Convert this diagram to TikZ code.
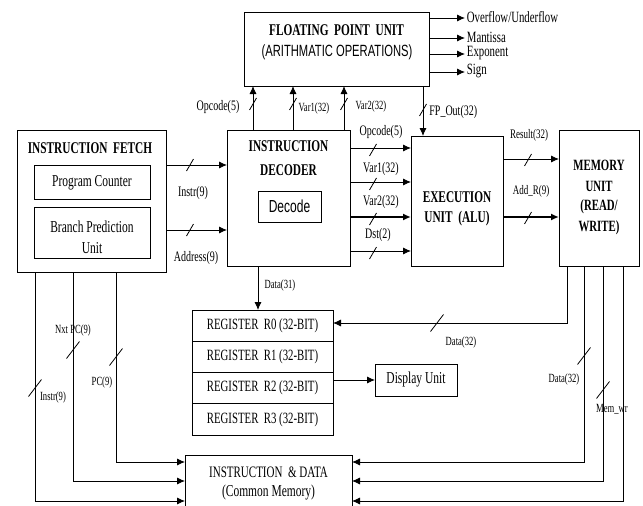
\documentclass[tikz,border=0pt]{standalone}
\usepackage{graphicx}
\usepackage{fontspec}
\setmainfont{Liberation Serif}
\newfontfamily\sansf{Liberation Sans}
\usetikzlibrary{arrows.meta}
\newcommand\vs[1]{\scalebox{1}[1.45]{#1}}
\begin{document}
\begin{tikzpicture}[x=1pt,y=-1pt,line width=0.8pt,
  box/.style={draw,inner sep=0pt,outer sep=0pt,anchor=north west},
  ttl/.style={font=\bfseries\fontsize{11.3}{13}\selectfont,inner sep=0pt},
  sanst/.style={font=\sansf\fontsize{11.2}{13}\selectfont,inner sep=0pt},
  txt/.style={font=\fontsize{11.5}{13}\selectfont,inner sep=0pt},
  rtxt/.style={font=\fontsize{10.8}{13}\selectfont,inner sep=0pt},
  lbla/.style={font=\fontsize{10}{12}\selectfont,inner sep=0pt},
  lblb/.style={font=\fontsize{8.6}{10}\selectfont,inner sep=0pt},
  lblc/.style={font=\fontsize{9}{11}\selectfont,inner sep=0pt},
  arr/.style={-{Latex[length=8pt,width=7pt]}},
  thk/.style={line width=2pt},
  sls/.pic={\draw[line width=0.8pt] (-3.5,6) -- (3.5,-6);},
  sll/.pic={\draw[line width=0.8pt] (-6.5,8.5) -- (6.5,-8.5);}
]
\useasboundingbox (0,0) rectangle (643,506);

% ---------- boxes ----------
\node[box,minimum width=185pt,minimum height=74pt] (fpu) at (244,12) {};
\node[box,minimum width=149pt,minimum height=142pt] (fetch) at (17,130) {};
\node[box,minimum width=116pt,minimum height=34pt] (pc) at (34,165) {};
\node[box,minimum width=116pt,minimum height=51pt] (bpu) at (34,207) {};
\node[box,minimum width=123pt,minimum height=136pt] (dec) at (227,130) {};
\node[box,minimum width=63pt,minimum height=31pt] (decode) at (258,191) {};
\node[box,minimum width=92pt,minimum height=130pt] (alu) at (411,136) {};
\node[box,minimum width=80pt,minimum height=136pt] (mem) at (559,130) {};
\node[box,minimum width=141pt,minimum height=31.25pt] (reg0) at (192,310) {};
\node[box,minimum width=141pt,minimum height=31.25pt] (reg1) at (192,341.25) {};
\node[box,minimum width=141pt,minimum height=31.25pt] (reg2) at (192,372.5) {};
\node[box,minimum width=141pt,minimum height=31.25pt] (reg3) at (192,403.75) {};
\node[box,minimum width=82pt,minimum height=32pt] (disp) at (375,364) {};
\node[box,minimum width=167pt,minimum height=60pt] (ind) at (185,455) {};

% ---------- texts in boxes ----------
\node[ttl] (fput) at (336.5,30) {\vs{FLOATING\ \ POINT\ \ UNIT}};
\node[sanst] (fpus) at (337,52) {\vs{(ARITHMATIC OPERATIONS)}};
\node[ttl] (fetcht) at (90,148) {\vs{INSTRUCTION\ \ FETCH}};
\node[txt] (pct) at (92,183) {\vs{Program Counter}};
\node[txt] (bput1) at (92,227) {\vs{Branch Prediction}};
\node[txt] (bput2) at (92,248) {\vs{Unit}};
\node[ttl] (dect1) at (288.5,146) {\vs{INSTRUCTION}};
\node[ttl] (dect2) at (288.5,170) {\vs{DECODER}};
\node[font=\sansf\fontsize{12}{14}\selectfont,inner sep=0pt] (decodet) at (289.5,206.5) {\vs{Decode}};
\node[ttl] (alut1) at (457,197) {\vs{EXECUTION}};
\node[ttl] (alut2) at (457,219) {\vs{UNIT\ \ (ALU)}};
\node[ttl,font=\bfseries\fontsize{10.8}{13}\selectfont] (memt1) at (599,165) {\vs{MEMORY}};
\node[ttl,font=\bfseries\fontsize{10.8}{13}\selectfont] (memt2) at (599,186) {\vs{UNIT}};
\node[ttl,font=\bfseries\fontsize{10.8}{13}\selectfont] (memt3) at (599,207) {\vs{(READ/}};
\node[ttl,font=\bfseries\fontsize{10.8}{13}\selectfont] (memt4) at (599,228) {\vs{WRITE)}};
\node[rtxt] (r0t) at (reg0) {\vs{REGISTER\ \ R0 (32-BIT)}};
\node[rtxt] (r1t) at (reg1) {\vs{REGISTER\ \ R1 (32-BIT)}};
\node[rtxt] (r2t) at (reg2) {\vs{REGISTER\ \ R2 (32-BIT)}};
\node[rtxt] (r3t) at (reg3) {\vs{REGISTER\ \ R3 (32-BIT)}};
\node[txt] (dispt) at (disp) {\vs{Display Unit}};
\node[rtxt,font=\fontsize{11}{13}\selectfont] (indt1) at (268.5,472) {\vs{INSTRUCTION\ \ \&\ DATA}};
\node[txt] (indt2) at (268.5,493) {\vs{(Common Memory)}};

% ---------- FPU outputs ----------
\node[rtxt,anchor=west,inner sep=1.5pt] (o1) at (465,17) {\vs{Overflow/Underflow}};
\node[rtxt,anchor=west,inner sep=1.5pt] (o2) at (465,37) {\vs{Mantissa}};
\node[rtxt,anchor=west,inner sep=1.5pt] (o3) at (465,53) {\vs{Exponent}};
\node[rtxt,anchor=west,inner sep=1.5pt] (o4) at (465,71) {\vs{Sign}};
\coordinate (y1) at (0,18);
\coordinate (y2) at (0,38);
\coordinate (y3) at (0,54);
\coordinate (y4) at (0,72);
\draw[arr] (fpu.east |- y1) -- (o1.west |- y1);
\draw[arr] (fpu.east |- y2) -- (o2.west |- y2);
\draw[arr] (fpu.east |- y3) -- (o3.west |- y3);
\draw[arr] (fpu.east |- y4) -- (o4.west |- y4);

% ---------- fetch -> decoder ----------
\coordinate (yi) at (0,165);
\coordinate (ya) at (0,230);
\draw[arr] (fetch.east |- yi) -- (dec.west |- yi);
\draw[arr] (fetch.east |- ya) -- (dec.west |- ya);
\pic at (190,165) {sls};
\pic at (190,230) {sls};
\node[lbla] (l1) at (193,193) {\vs{Instr(9)}};
\node[lbla] (l2) at (196,258) {\vs{Address(9)}};

% ---------- decoder -> FPU ----------
\coordinate (xa) at (253,0);
\coordinate (xb) at (293,0);
\coordinate (xc) at (344,0);
\draw[arr] (dec.north -| xa) -- (fpu.south -| xa);
\draw[arr] (dec.north -| xb) -- (fpu.south -| xb);
\draw[arr] (dec.north -| xc) -- (fpu.south -| xc);
\pic at (253,104) {sls};
\pic at (293,104) {sls};
\pic at (344,104) {sls};
\node[lbla] (l3) at (218,107) {\vs{Opcode(5)}};
\node[lblb] (l4) at (314,108) {\vs{Var1(32)}};
\node[lblb] (l5) at (371,107) {\vs{Var2(32)}};

% ---------- FPU -> ALU ----------
\coordinate (xf) at (423,0);
\draw[arr] (fpu.south -| xf) -- (alu.north -| xf);
\pic at (423,110) {sls};
\node[lbla,anchor=west] (l6) at (429,112) {\vs{FP\_Out(32)}};

% ---------- decoder -> ALU ----------
\coordinate (yd1) at (0,148);
\coordinate (yd2) at (0,182);
\coordinate (yd3) at (0,217);
\coordinate (yd4) at (0,251);
\draw[arr] (dec.east |- yd1) -- (alu.west |- yd1);
\draw[arr] (dec.east |- yd2) -- (alu.west |- yd2);
\draw[arr,thk] (dec.east |- yd3) -- (alu.west |- yd3);
\draw[arr] (dec.east |- yd4) -- (alu.west |- yd4);
\pic at (373,150) {sls};
\pic at (373,184) {sls};
\pic at (373,219) {sls};
\pic at (373,253) {sls};
\node[lbla] (l7) at (381,132) {\vs{Opcode(5)}};
\node[lbla] (l8) at (381,169) {\vs{Var1(32)}};
\node[lbla] (l9) at (381,202) {\vs{Var2(32)}};
\node[lbla] (l10) at (378,235) {\vs{Dst(2)}};

% ---------- ALU -> memory ----------
\coordinate (ym1) at (0,159);
\coordinate (ym2) at (0,217);
\draw[arr] (alu.east |- ym1) -- (mem.west |- ym1);
\draw[arr,thk] (alu.east |- ym2) -- (mem.west |- ym2);
\pic at (528,160) {sls};
\pic at (528,218) {sls};
\node[lblc] (l11) at (529,135) {\vs{Result(32)}};
\node[lblc] (l12) at (531,191) {\vs{Add\_R(9)}};

% ---------- decoder -> registers ----------
\coordinate (xd) at (258,0);
\draw[arr] (dec.south -| xd) -- (reg0.north -| xd);
\node[lblb] (l13) at (280,285) {\vs{Data(31)}};

% ---------- registers -> display ----------
\draw[arr] (reg2.east |- disp.west) -- (disp.west);

% ---------- memory -> registers ----------
\coordinate (xm1) at (567,0);
\coordinate (yr) at (0,323);
\draw[arr] (mem.south -| xm1) |- (reg0.east |- yr);
\pic at (437,323) {sll};
\node[lblb] (l14) at (461,342) {\vs{Data(32)}};

% ---------- memory -> instruction & data ----------
\coordinate (xm2) at (584,0);
\coordinate (xm3) at (603,0);
\coordinate (xm4) at (623,0);
\coordinate (yb1) at (0,462);
\coordinate (yb2) at (0,481);
\coordinate (yb3) at (0,501);
\draw[arr] (mem.south -| xm2) |- (ind.east |- yb1);
\draw[arr] (mem.south -| xm3) |- (ind.east |- yb2);
\draw[arr] (mem.south -| xm4) |- (ind.east |- yb3);
\pic at (584,356) {sll};
\pic at (603,390) {sll};
\node[lblb] (l15) at (564,379) {\vs{Data(32)}};
\node[lblb] (l16) at (612,409) {\vs{Mem\_wr}};

% ---------- fetch -> instruction & data ----------
\coordinate (xf1) at (35,0);
\coordinate (xf2) at (73,0);
\coordinate (xf3) at (116,0);
\draw[arr] (fetch.south -| xf3) |- (ind.west |- yb1);
\draw[arr] (fetch.south -| xf2) |- (ind.west |- yb2);
\draw[arr] (fetch.south -| xf1) |- (ind.west |- yb3);
\pic at (116,357) {sll};
\pic at (73,350) {sll};
\pic at (35,388) {sll};
\node[lblb] (l17) at (102,382) {\vs{PC(9)}};
\node[lblb] (l18) at (73,330) {\vs{Nxt PC(9)}};
\node[lblb] (l19) at (53,397) {\vs{Instr(9)}};
\end{tikzpicture}
\end{document}
